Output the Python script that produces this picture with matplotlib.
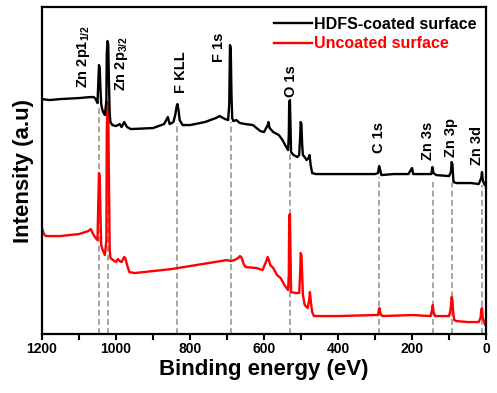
import numpy as np
import matplotlib
matplotlib.use('Agg')
import matplotlib.pyplot as plt

plt.rcParams['font.family'] = ['Liberation Sans', 'DejaVu Sans']
plt.rcParams['mathtext.default'] = 'regular'

# survey spectra (binding energy in eV, intensity in a.u.)
coated_be = [1200, 1180, 1150, 1100, 1070, 1060, 1055, 1050, 1048, 1046, 1044, 1042, 1040, 1038,
             1035, 1030, 1026, 1025, 1023, 1021, 1019, 1017, 1015, 1010, 1000, 990, 985, 978, 970,
             960, 900, 870, 860, 855, 845, 840, 836, 834, 831, 828, 820, 800, 760, 730, 720,
             705, 697, 694, 692, 690, 688, 686, 683, 675, 665, 650, 630, 610, 600, 590, 588, 585,
             575, 560, 550, 540, 535, 533, 532, 530, 528, 527, 520, 510, 505, 502, 501, 499, 497, 495,
             490, 485, 480, 477, 474, 470, 460, 400, 350, 300, 292, 289, 286, 283, 250, 210,
             200, 197, 160, 148, 145, 142, 135, 100, 95, 93, 91, 89, 88, 80, 40, 20, 13, 11, 9, 5, 0]
coated_int = [235, 234, 235, 236, 237, 237, 235, 231, 250, 269, 266, 245, 230, 226,
              222, 219, 234, 280, 293, 290, 250, 220, 212, 209, 208, 210, 207, 212, 207,
              205, 206, 210, 217, 210, 212, 219, 228, 230, 224, 214, 209, 209, 212, 216, 218,
              215, 214, 230, 289, 286, 240, 216, 213, 214, 211, 210, 209, 203, 202, 209, 212, 206,
              202, 199, 194, 187, 184, 200, 232, 234, 200, 182, 179, 177, 179, 200, 212, 210, 190, 179,
              177, 174, 176, 179, 169, 161, 160, 160, 160, 160, 161, 168, 164, 159, 160, 160,
              166, 160, 160, 160, 167, 161, 159, 158, 162, 172, 170, 158, 152, 151, 151, 150, 156, 162, 154, 150, 148]

uncoated_be = [1200, 1195, 1190, 1150, 1100, 1075, 1068, 1062, 1055, 1050, 1048, 1046, 1044, 1042,
               1040, 1036, 1030, 1026, 1025, 1023, 1021, 1019, 1017, 1015, 1008, 1000, 995, 990, 985,
               978, 975, 970, 964, 950, 900, 850, 800, 750, 700, 690, 680, 670, 665, 660, 655,
               650, 620, 604, 595, 590, 587, 583, 575, 565, 555, 545, 535, 533, 532, 530, 528, 527,
               515, 505, 502, 501, 499, 497, 495, 490, 482, 478, 476, 474, 470, 465, 400, 300, 292,
               290, 288, 285, 280, 200, 150, 146, 144, 142, 138, 100, 96, 93, 91, 89, 86, 80,
               50, 20, 15, 13, 11, 9, 5, 2, 0]
uncoated_int = [106, 100, 98, 98, 100, 103, 105, 100, 96, 94, 130, 161, 158, 120,
                89, 84, 79, 94, 200, 232, 228, 150, 84, 76, 74, 72, 75, 73, 72,
                77, 76, 69, 62, 61, 63, 65, 68, 71, 74, 73, 74, 76, 78, 76, 70,
                67, 66, 64, 72, 77, 74, 69, 66, 59, 56, 49, 44, 60, 118, 120, 70, 42,
                41, 41, 64, 81, 79, 60, 39, 29, 26, 34, 42, 34, 22, 18, 18, 19, 19,
                24, 26, 20, 18, 19, 18, 24, 29, 22, 18, 18, 24, 37, 34, 22, 14, 13,
                12, 12, 16, 24, 26, 16, 12, 9, 9]

# peak assignments: dashed marker position, top of dashed line, label position
peak_pos = [1045, 1022, 834, 690, 531, 288, 144, 92, 11]
peak_top = [226, 207, 211, 212, 181, 157, 152, 151, 149]
peak_labels = [r'Zn 2p1$_{1/2}$', r'Zn 2p$_{3/2}$', 'F KLL', 'F 1s', 'O 1s',
               'C 1s', 'Zn 3s', 'Zn 3p', 'Zn 3d']
label_x = [1089, 985, 825, 723, 528, 288, 156, 94, 24]
label_y = [246, 243, 241, 272, 237, 181, 174, 177, 169]

fig = plt.figure(figsize=(4.97, 3.93), dpi=100)
ax = fig.add_axes([0.0845, 0.150, 0.8935, 0.832])

for x, top in zip(peak_pos, peak_top):
    ax.plot([x, x], [0, top], color='#959595', linestyle=(0, (3.5, 2)), linewidth=1.2, zorder=1)

ax.plot(uncoated_be, uncoated_int, color='#ff0000', linewidth=1.7, label='Uncoated surface', zorder=2)
ax.plot(coated_be, coated_int, color='black', linewidth=1.7, label='HDFS-coated surface', zorder=3)

for txt, x, y in zip(peak_labels, label_x, label_y):
    ax.text(x, y, txt, rotation=90, ha='center', va='bottom', fontsize=10.5, fontweight='bold')

ax.set_xlim(1200, 0)
ax.set_ylim(0, 327)
ax.set_xticks([1200, 1000, 800, 600, 400, 200, 0])
ax.set_xticks([1100, 900, 700, 500, 300, 100], minor=True)
ax.set_yticks([])
ax.tick_params(axis='x', which='both', direction='out', length=4, width=1.5, pad=2)
for lab in ax.get_xticklabels():
    lab.set_fontweight('bold')
    lab.set_fontsize(10)
for sp in ax.spines.values():
    sp.set_linewidth(1.6)

ax.set_xlabel('Binding energy (eV)', fontsize=16, fontweight='bold', labelpad=2)
ax.set_ylabel('Intensity (a.u)', fontsize=16, fontweight='bold', labelpad=6)

handles, labels = ax.get_legend_handles_labels()
leg = ax.legend(handles[::-1], labels[::-1], loc='upper right', frameon=False,
                prop={'weight': 'bold', 'size': 11.5}, handlelength=2.4,
                handletextpad=0.1, borderaxespad=0.2, labelspacing=0.3)
leg.get_texts()[1].set_color('#ff0000')

plt.savefig('out.png', dpi=100)
